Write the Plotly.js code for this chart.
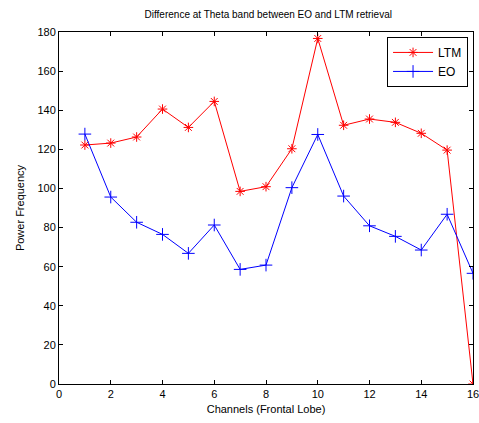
<!DOCTYPE html>
<html><head><meta charset="utf-8">
<script src="https://cdn.plot.ly/plotly-3.0.1.min.js"></script>
<style>html,body{margin:0;padding:0;background:#fff}</style>
</head><body><div id="chart" style="width:479px;height:423px"></div>
<script>
const channels = [1,2,3,4,5,6,7,8,9,10,11,12,13,14,15,16];
const ltm = [122.2,123.2,126.3,140.6,131.2,144.5,98.5,100.9,120.3,176.7,132.3,135.5,133.8,128.2,119.6,0];
const eo = [127.8,95.6,82.7,76.5,66.8,81.3,58.6,60.8,100.4,127.6,96.1,80.9,75.5,68.5,86.8,56.6];
const xTicks = [0,2,4,6,8,10,12,14,16];
const yTicks = [0,20,40,60,80,100,120,140,160,180];

const font = {family: 'Liberation Sans, Arial, sans-serif', size: 11, color: '#000'};
const traces = [
  {x: channels, y: ltm, name: 'LTM', mode: 'lines+markers', type: 'scatter',
   line: {color: '#ff0000', width: 1},
   marker: {symbol: 'asterisk-open', size: 8, color: '#ff0000', line: {color: '#ff0000', width: 1}}},
  {x: channels, y: eo, name: 'EO', mode: 'lines+markers', type: 'scatter',
   line: {color: '#0000ff', width: 1},
   marker: {symbol: 'cross-thin-open', size: 9, color: '#0000ff', line: {color: '#0000ff', width: 1}}}
];
const axisCommon = {showgrid: false, zeroline: false, showline: true, linecolor: '#000', linewidth: 1,
  mirror: 'ticks', ticks: 'inside', ticklen: 4, tickcolor: '#000', tickfont: font, ticklabeloverflow: 'allow'};
const layout = {
  width: 479, height: 423,
  margin: {l: 59, r: 6, t: 32, b: 39},
  paper_bgcolor: '#fff', plot_bgcolor: '#fff',
  font: font,
  title: {text: 'Difference at Theta band between EO and LTM retrieval', font: {family: font.family, size: 10, color: '#000'},
    x: 0.56, xanchor: 'center', y: 0.975, yanchor: 'top'},
  xaxis: Object.assign({}, axisCommon, {range: [0, 16], tickvals: xTicks, ticktext: xTicks.map(String),
    title: {text: 'Channels (Frontal Lobe)', font: font, standoff: 6}}),
  yaxis: Object.assign({}, axisCommon, {range: [0, 180], tickvals: yTicks, ticktext: yTicks.map(String),
    title: {text: 'Power Frequency', font: font, standoff: 10}}),
  showlegend: true,
  legend: {x: 0.988, y: 0.986, xanchor: 'right', yanchor: 'top', bgcolor: '#fff',
    bordercolor: '#000', borderwidth: 1, font: {family: font.family, size: 12, color: '#000'},
    tracegroupgap: 0, itemwidth: 40}
};
Plotly.newPlot('chart', traces, layout, {displayModeBar: false, staticPlot: true});
</script>
</body></html>
